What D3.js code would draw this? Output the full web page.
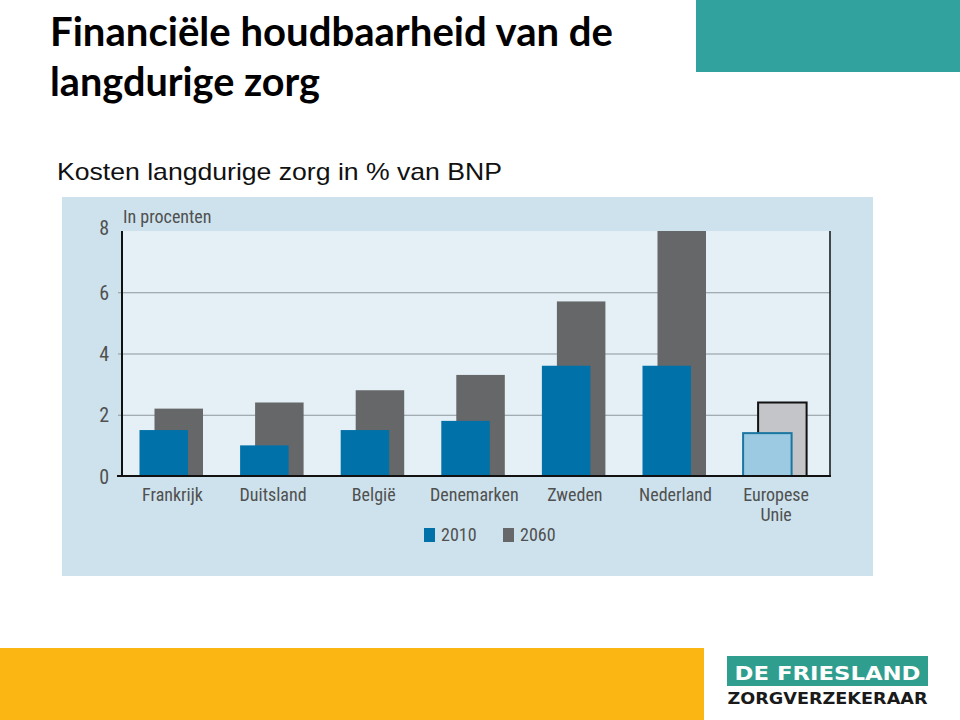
<!DOCTYPE html>
<html>
<head>
<meta charset="utf-8">
<script src="https://cdn.jsdelivr.net/npm/d3@7"></script>
<style>
  html, body { margin: 0; padding: 0; background: #ffffff; }
  svg { display: block; }
</style>
</head>
<body>
<svg id="chart" width="960" height="720"></svg>
<script>
// ---- Data ----
const categories = ["Frankrijk", "Duitsland", "België", "Denemarken", "Zweden", "Nederland", "Europese Unie"];
const values2010 = [1.5, 1.0, 1.5, 1.8, 3.6, 3.6, 1.4];
const values2060 = [2.2, 2.4, 2.8, 3.3, 5.7, 8.0, 2.4];
const yTicks = [0, 2, 4, 6, 8];
const seriesNames = ["2010", "2060"];

const svg = d3.select("#chart");

// ---- Slide decoration ----
svg.append("rect").attr("x", 696).attr("y", 0).attr("width", 264).attr("height", 72).attr("fill", "#31a29e");
svg.append("rect").attr("x", 0).attr("y", 648).attr("width", 704).attr("height", 72).attr("fill", "#fbb614");

const titleFont = "Lato, 'Open Sans', sans-serif";
svg.append("text").attr("x", 50).attr("y", 46)
  .attr("font-family", titleFont).attr("font-weight", 700).attr("font-size", 40)
  .attr("textLength", 563).attr("lengthAdjust", "spacingAndGlyphs")
  .attr("fill", "#000").text("Financiële houdbaarheid van de");
svg.append("text").attr("x", 50).attr("y", 96)
  .attr("font-family", titleFont).attr("font-weight", 700).attr("font-size", 40)
  .attr("textLength", 270).attr("lengthAdjust", "spacingAndGlyphs")
  .attr("fill", "#000").text("langdurige zorg");

svg.append("text").attr("x", 57).attr("y", 180)
  .attr("font-family", "'Liberation Sans', Arial, sans-serif").attr("font-size", 24)
  .attr("textLength", 445).attr("lengthAdjust", "spacingAndGlyphs")
  .attr("fill", "#111").text("Kosten langdurige zorg in % van BNP");

// ---- Logo ----
svg.append("rect").attr("x", 727).attr("y", 656).attr("width", 201).attr("height", 30).attr("fill", "#2f9e8f");
svg.append("text").attr("x", 827.5).attr("y", 680).attr("text-anchor", "middle")
  .attr("font-family", "'DejaVu Sans', sans-serif").attr("font-weight", 700).attr("font-size", 20)
  .attr("textLength", 186).attr("lengthAdjust", "spacingAndGlyphs")
  .attr("fill", "#fff").text("DE FRIESLAND");
svg.append("text").attr("x", 827.5).attr("y", 704).attr("text-anchor", "middle")
  .attr("font-family", "'DejaVu Sans', sans-serif").attr("font-weight", 700).attr("font-size", 15)
  .attr("textLength", 200).attr("lengthAdjust", "spacingAndGlyphs")
  .attr("fill", "#1a1a1a").text("ZORGVERZEKERAAR");

// ---- Chart panel ----
svg.append("rect").attr("x", 62).attr("y", 197).attr("width", 811).attr("height", 379).attr("fill", "#cde2ec");

const plotLeft = 122, plotRight = 830, plotTop = 231, plotBottom = 476;
svg.append("rect").attr("x", plotLeft).attr("y", plotTop)
  .attr("width", plotRight - plotLeft).attr("height", plotBottom - plotTop).attr("fill", "#e4eff6");

const y = d3.scaleLinear().domain([0, 8]).range([plotBottom, plotTop]);
const x = d3.scaleBand().domain(categories).range([139.5, 139.5 + 100.6 * 7]).paddingInner(0).paddingOuter(0);

const chartFont = "'Liberation Sans Narrow', 'Roboto Condensed', 'Liberation Sans', sans-serif";
const textCol = "#505050";

// Gridlines (2,4,6) with left ticks
const yAxis = d3.axisLeft(y).tickValues(yTicks).tickSize(-(plotRight - plotLeft)).tickPadding(13).tickFormat(d3.format("d"));
const gAxis = svg.append("g").attr("transform", `translate(${plotLeft},0)`).call(yAxis);
gAxis.select(".domain").remove();
gAxis.selectAll(".tick line")
  .attr("x1", -4)
  .attr("stroke", "#8c979c").attr("stroke-width", 1)
  .filter(d => d === 0 || d === 8).remove();
gAxis.selectAll(".tick text")
  .attr("font-family", chartFont).attr("font-size", 20).attr("font-weight", 400).attr("fill", textCol)
  .attr("dy", d => d === 8 ? "0.15em" : "0.35em");

// Bars
const bw = 48.5;
const g = svg.append("g");
const data = categories.map((c, i) => ({ c, v10: values2010[i], v60: values2060[i], eu: c === "Europese Unie" }));

g.selectAll("rect.b60").data(data).join("rect").attr("class", "b60")
  .attr("x", d => x(d.c) + 15)
  .attr("y", d => y(d.v60))
  .attr("width", bw)
  .attr("height", d => y(0) - y(d.v60))
  .attr("fill", d => d.eu ? "#c4c5c8" : "#666768")
  .attr("stroke", d => d.eu ? "#111" : "none")
  .attr("stroke-width", d => d.eu ? 2 : 0);

g.selectAll("rect.b10").data(data).join("rect").attr("class", "b10")
  .attr("x", d => x(d.c))
  .attr("y", d => y(d.v10))
  .attr("width", bw)
  .attr("height", d => y(0) - y(d.v10))
  .attr("fill", d => d.eu ? "#9ccae2" : "#0071a9")
  .attr("stroke", d => d.eu ? "#1b76a2" : "none")
  .attr("stroke-width", d => d.eu ? 2 : 0);

// Axes lines
svg.append("line").attr("x1", plotLeft).attr("x2", plotLeft).attr("y1", plotTop).attr("y2", plotBottom + 1)
  .attr("stroke", "#111").attr("stroke-width", 2);
svg.append("line").attr("x1", plotRight).attr("x2", plotRight).attr("y1", plotTop).attr("y2", plotBottom + 1)
  .attr("stroke", "#111").attr("stroke-width", 1.5);
svg.append("line").attr("x1", plotLeft - 5).attr("x2", plotRight + 1).attr("y1", plotBottom).attr("y2", plotBottom)
  .attr("stroke", "#111").attr("stroke-width", 2);

// Y label
svg.append("text").attr("x", plotLeft + 1).attr("y", 223)
  .attr("font-family", chartFont).attr("font-size", 18).attr("fill", textCol).text("In procenten");

// Category labels
const lab = svg.append("g");
data.forEach(d => {
  const cx = x(d.c) + 33;
  const t = lab.append("text").attr("x", cx).attr("y", 501).attr("text-anchor", "middle")
    .attr("font-family", chartFont).attr("font-size", 18).attr("fill", textCol);
  const parts = d.c === "Europese Unie" ? ["Europese", "Unie"] : [d.c];
  parts.forEach((p, k) => t.append("tspan").attr("x", cx).attr("dy", k === 0 ? 0 : 20).text(p));
});

// Legend
const legendColors = ["#0071a9", "#666768"];
const legX = [424, 503];
seriesNames.forEach((s, i) => {
  svg.append("rect").attr("x", legX[i]).attr("y", 528).attr("width", 11).attr("height", 14).attr("fill", legendColors[i]);
  svg.append("text").attr("x", legX[i] + 17).attr("y", 541)
    .attr("font-family", chartFont).attr("font-size", 18).attr("fill", textCol).text(s);
});
</script>
</body>
</html>
